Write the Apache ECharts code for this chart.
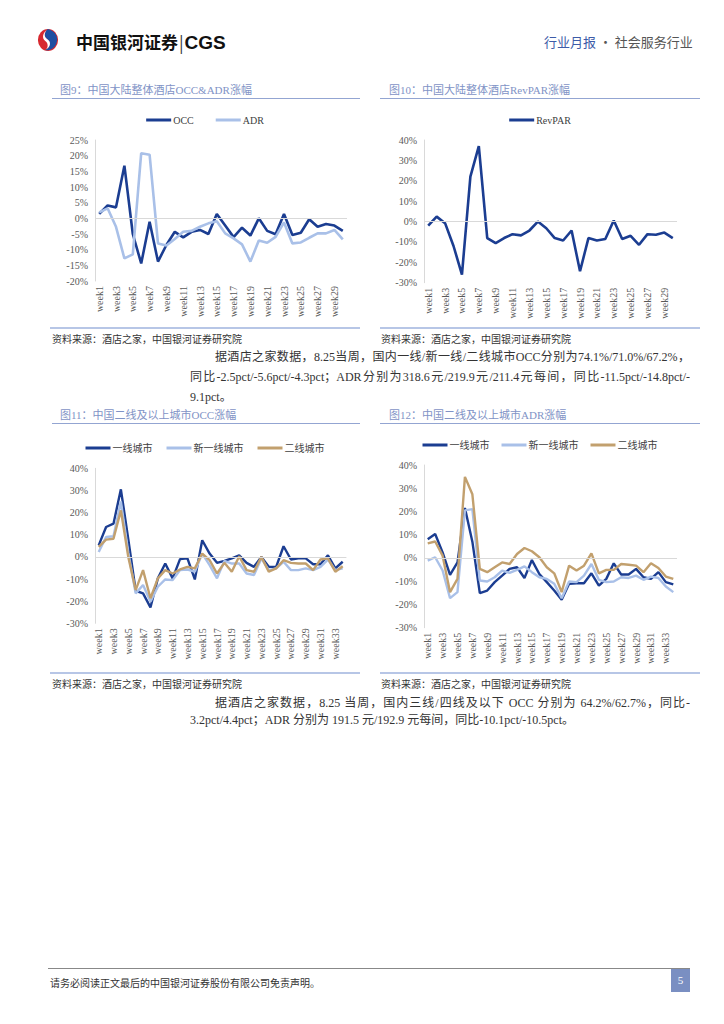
<!DOCTYPE html>
<html><head><meta charset="utf-8">
<script src="https://cdn.jsdelivr.net/npm/echarts/dist/echarts.min.js"></script>
<style>
html,body{margin:0;padding:0;background:#fff;}
body{width:724px;height:1024px;position:relative;overflow:hidden;font-family:"Liberation Serif","Noto Sans CJK SC",serif;color:#333;}
.abs{position:absolute;}
.title{font-size:11px;color:#7f93c6;white-space:nowrap;}
.uline{height:1px;background:#93a5d2;}
.srcline{height:2px;background:#b7c6e6;}
.src{font-size:10px;color:#333;white-space:nowrap;}
.pl{position:absolute;font-size:12px;color:#333;white-space:nowrap;line-height:16px;}
.j{text-align:justify;text-align-last:justify;white-space:normal;overflow:hidden;height:16px;}
</style></head>
<body>
<!-- header -->
<svg class="abs" style="left:37px;top:27px" width="22" height="26" viewBox="0 0 24 26">
  <ellipse cx="12" cy="13" rx="11" ry="12" fill="#d7282f"/>
  <path d="M12 1 C20 3 24 10 21 17 C19 22 14 25 9 24 C15 21 16 15 11 12 C7 9 8 4 12 1Z" fill="#1f4ea1"/>
  <path d="M12 1 C8 4 7 9 11 12 C16 15 15 21 9 24 C12 22 13 17 9 14 C5 11 6 5 12 1Z" fill="#fff"/>
</svg>
<div class="abs" style="left:76px;top:29px;font-family:'Noto Sans CJK SC';font-weight:bold;font-size:17px;color:#111;white-space:nowrap">中国银河证券<span style="font-weight:normal;color:#333;margin:0 1px">|</span><span style="font-family:'Liberation Sans';font-weight:bold;font-size:19px">CGS</span></div>
<div class="abs" style="left:544px;top:32px;font-size:13px;white-space:nowrap;font-family:'Noto Sans CJK SC'"><span style="color:#3d5ba8">行业月报</span><span style="color:#555"> · 社会服务行业</span></div>

<!-- titles -->
<div class="abs title" style="left:60px;top:81px">图9：中国大陆整体酒店OCC&amp;ADR涨幅</div>
<div class="abs uline" style="left:52px;top:98px;width:308px"></div>
<div class="abs title" style="left:389px;top:81px">图10：中国大陆整体酒店RevPAR涨幅</div>
<div class="abs uline" style="left:380px;top:98px;width:320px"></div>

<div id="c1" class="abs" style="left:50px;top:100px;width:310px;height:228px"></div>
<div id="c2" class="abs" style="left:380px;top:100px;width:320px;height:228px"></div>

<div class="abs srcline" style="left:50px;top:327px;width:310px"></div>
<div class="abs srcline" style="left:380px;top:327px;width:320px"></div>
<div class="abs src" style="left:52px;top:331px">资料来源：酒店之家，中国银河证券研究院</div>
<div class="abs src" style="left:381px;top:331px">资料来源：酒店之家，中国银河证券研究院</div>

<div class="pl j" style="left:215px;top:349px;width:475px">据酒店之家数据，8.25当周，国内一线/新一线/二线城市OCC分别为74.1%/71.0%/67.2%，</div>
<div class="pl j" style="left:190px;top:369px;width:500px">同比-2.5pct/-5.6pct/-4.3pct；ADR分别为318.6元/219.9元/211.4元每间，同比-11.5pct/-14.8pct/-</div>
<div class="pl" style="left:190px;top:389px">9.1pct。</div>

<div class="abs title" style="left:60px;top:406px">图11：中国二线及以上城市OCC涨幅</div>
<div class="abs uline" style="left:52px;top:423px;width:308px"></div>
<div class="abs title" style="left:389px;top:406px">图12：中国二线及以上城市ADR涨幅</div>
<div class="abs uline" style="left:380px;top:423px;width:320px"></div>

<div id="c3" class="abs" style="left:50px;top:428px;width:310px;height:244px"></div>
<div id="c4" class="abs" style="left:380px;top:428px;width:320px;height:244px"></div>

<div class="abs srcline" style="left:50px;top:672px;width:310px"></div>
<div class="abs srcline" style="left:380px;top:672px;width:320px"></div>
<div class="abs src" style="left:52px;top:676px">资料来源：酒店之家，中国银河证券研究院</div>
<div class="abs src" style="left:381px;top:676px">资料来源：酒店之家，中国银河证券研究院</div>

<div class="pl j" style="left:215px;top:695px;width:475px">据酒店之家数据，8.25 当周，国内三线/四线及以下 OCC 分别为 64.2%/62.7%，同比-</div>
<div class="pl" style="left:190px;top:712px">3.2pct/4.4pct；ADR 分别为 191.5 元/192.9 元每间，同比-10.1pct/-10.5pct。</div>

<!-- footer -->
<div class="abs" style="left:48px;top:968px;width:642px;height:1px;background:#888"></div>
<div class="abs src" style="left:50px;top:975px;font-size:10px">请务必阅读正文最后的中国银河证券股份有限公司免责声明。</div>
<div class="abs" style="left:671px;top:969px;width:19px;height:23px;background:#7a8fc2;color:#fff;font-size:11px;text-align:center;line-height:23px">5</div>

<script>
// ---------- data ----------
const weeks30 = ['week1','week2','week3','week4','week5','week6','week7','week8','week9','week10','week11','week12','week13','week14','week15','week16','week17','week18','week19','week20','week21','week22','week23','week24','week25','week26','week27','week28','week29','week30'];
const weeks34 = ['week1','week2','week3','week4','week5','week6','week7','week8','week9','week10','week11','week12','week13','week14','week15','week16','week17','week18','week19','week20','week21','week22','week23','week24','week25','week26','week27','week28','week29','week30','week31','week32','week33','week34'];

// 图9 (%)
const occTotal = [1.4,4.1,3.5,16.8,-5.0,-14.4,-1.1,-13.8,-8.5,-4.3,-6.1,-4.3,-3.7,-5.0,1.4,-2.3,-6.0,-3.0,-5.5,0.0,-4.0,-5.1,1.4,-5.3,-4.6,-0.3,-2.7,-1.8,-2.3,-4.0];
const adrTotal = [1.9,3.2,-2.7,-12.8,-11.5,20.8,20.3,-8.0,-8.7,-6.6,-4.3,-4.0,-2.7,-1.6,-0.9,-4.8,-6.4,-8.3,-13.8,-7.1,-7.8,-5.9,-1.3,-8.0,-7.7,-6.2,-4.8,-4.8,-3.7,-6.7];

// 图10 (%)
const revpar = [-2.0,2.4,-0.8,-12.0,-26.0,22.0,37.0,-8.1,-10.6,-8.1,-6.2,-6.8,-4.4,0.0,-3.3,-8.1,-9.3,-4.4,-24.4,-8.1,-9.3,-8.6,0.5,-8.6,-7.0,-11.4,-6.2,-6.5,-5.4,-8.1];

// 图11 OCC (%)
const occTier1 = [5.2,13.5,15.0,30.5,8.0,-15.3,-16.5,-22.8,-9.7,-3.0,-9.7,-1.0,-0.7,-10.2,7.5,1.5,-2.7,-1.8,-0.7,0.7,-2.7,-4.5,0.0,-4.5,-4.5,4.8,-1.2,-0.7,-0.7,-3.3,-3.3,0.7,-5.2,-2.2];
const occNewTier1 = [2.2,9.0,9.3,25.0,2.0,-16.5,-12.7,-20.2,-13.5,-10.2,-10.5,-6.0,-5.7,-6.7,1.5,-3.7,-9.7,-1.8,-3.0,-3.0,-7.5,-8.2,-0.7,-6.0,-5.2,-2.2,-6.0,-6.0,-5.2,-6.0,-4.5,-1.2,-6.0,-5.2];
const occTier2 = [4.5,7.8,8.2,21.0,0.0,-15.0,-6.0,-18.7,-9.7,-6.0,-7.5,-5.7,-4.5,-5.2,1.5,-1.5,-7.5,-2.7,-6.7,0.3,-6.0,-6.7,0.0,-6.7,-5.2,-1.5,-2.7,-3.0,-3.0,-6.0,-1.2,-0.7,-6.7,-4.2];

// 图12 ADR (%)
const adrTier1 = [8.1,10.3,2.4,-7.3,-1.9,21.5,7.0,-15.1,-14.0,-10.4,-7.6,-4.7,-4.0,-8.6,-0.9,-6.9,-10.4,-14.0,-18.0,-11.1,-10.9,-10.9,-6.6,-11.9,-9.0,-2.3,-7.1,-7.1,-4.7,-8.3,-9.0,-6.1,-10.4,-11.4];
const adrNewTier1 = [-1.1,0.3,-5.4,-17.3,-14.7,20.5,21.0,-9.7,-10.1,-8.3,-5.4,-6.4,-5.1,-3.6,-6.1,-8.3,-9.0,-11.1,-17.3,-10.1,-10.4,-7.6,-2.6,-9.4,-10.4,-10.1,-8.3,-8.6,-7.6,-9.4,-8.0,-8.6,-12.3,-14.7];
const adrTier2 = [6.3,7.1,1.0,-14.7,-9.0,34.9,27.4,-4.7,-6.1,-4.0,-1.9,-2.6,1.7,4.3,2.9,0.3,-4.0,-6.6,-14.7,-3.3,-5.4,-3.3,2.0,-6.6,-5.1,-5.1,-2.6,-2.9,-3.3,-6.1,-2.3,-4.3,-8.0,-9.0];

// ---------- chart builder ----------
const DARK = '#1b3d91', LIGHT = '#a9c0e8', TAN = '#c2a06e';
const FONT = "'Liberation Serif','Noto Sans CJK SC',serif";

function build(id, cats, series, yMin, yMax, yInt, grid, legendTop, legendGap, lw) {
  const chart = echarts.init(document.getElementById(id), null, {renderer: 'svg'});
  const s = series.map((d, i) => ({
    name: d.name, type: 'line', data: d.data, symbol: 'none', smooth: false,
    lineStyle: {color: d.color, width: lw}, itemStyle: {color: d.color},
    markLine: i === 0 ? {silent: true, symbol: 'none', label: {show: false},
      lineStyle: {color: '#d9d9d9', width: 1, type: 'solid'}, data: [{yAxis: 0}]} : undefined,
    z: 2 + i
  }));
  chart.setOption({
    animation: false,
    textStyle: {fontFamily: FONT},
    legend: {top: legendTop, left: 'center', itemWidth: 25, itemHeight: 3, icon: 'rect', itemGap: legendGap,
      textStyle: {fontFamily: FONT, fontSize: 10, color: '#404040', padding: [0,0,0,-3]},
      data: series.map(d => d.name)},
    grid: Object.assign({containLabel: false, outerBoundsMode: 'none'}, grid),
    xAxis: {type: 'category', data: cats, boundaryGap: true,
      axisLine: {show: false}, axisTick: {show: false}, splitLine: {show: false},
      axisLabel: {interval: 1, rotate: 90, fontSize: 10, color: '#595959', fontFamily: FONT, margin: 5}},
    yAxis: {type: 'value', min: yMin, max: yMax, interval: yInt,
      axisLine: {show: true, lineStyle: {color: '#d9d9d9', width: 1}}, axisTick: {show: false},
      splitLine: {show: false},
      axisLabel: {formatter: '{value}%', fontSize: 10, color: '#595959', fontFamily: FONT, margin: 7}},
    series: s
  });
}

build('c1', weeks30, [
  {name: 'OCC', data: occTotal, color: DARK},
  {name: 'ADR', data: adrTotal, color: LIGHT}
], -20, 25, 5, {left: 45, right: 13, top: 40, bottom: 47}, 10, 22, 2.6);

build('c2', weeks30, [
  {name: 'RevPAR', data: revpar, color: DARK}
], -30, 40, 10, {left: 44, right: 23, top: 40, bottom: 45.3}, 10, 20, 2.6);

build('c3', weeks34, [
  {name: '一线城市', data: occTier1, color: DARK},
  {name: '新一线城市', data: occNewTier1, color: LIGHT},
  {name: '二线城市', data: occTier2, color: TAN}
], -30, 40, 10, {left: 45, right: 13.6, top: 40.3, bottom: 48.7}, 10, 14, 2.4);

build('c4', weeks34, [
  {name: '一线城市', data: adrTier1, color: DARK},
  {name: '新一线城市', data: adrNewTier1, color: LIGHT},
  {name: '二线城市', data: adrTier2, color: TAN}
], -30, 40, 10, {left: 44, right: 23, top: 37, bottom: 44.3}, 7, 12, 2.4);
</script>
</body></html>
